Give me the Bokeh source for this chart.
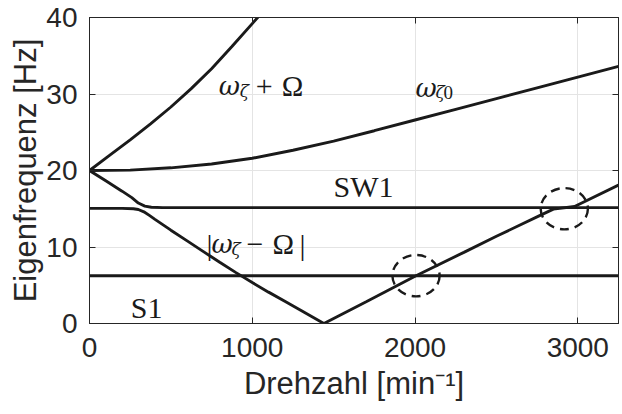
from bokeh.plotting import figure
from bokeh.models import Range1d, LinearAxis, FixedTicker
from bokeh.core.properties import value
from bokeh.embed import file_html
from bokeh.resources import INLINE

# axis ticks
rpm_ticks = [0, 1000, 2000, 3000]
hz_ticks = [0, 10, 20, 30, 40]

# omega_zeta0 branch
rpm_w0 = [0, 250, 500, 750, 1000, 1250, 1500, 1750, 2000, 2250, 2500, 2750, 3000, 3250]
hz_w0 = [20.0, 20.05, 20.35, 20.85, 21.6, 22.65, 23.85, 25.2, 26.6, 28.0, 29.4, 30.8, 32.2, 33.6]

# omega_zeta + Omega branch
rpm_wp = [0, 125, 250, 375, 500, 625, 750, 875, 1000, 1100]
hz_wp = [20.0, 22.0, 24.0, 26.1, 28.3, 30.7, 33.3, 36.2, 39.2, 41.6]

# SW1 mode (veering away from the backward branch near 300 rpm)
rpm_sw1 = [0, 100, 200, 260, 300, 340, 380, 450, 3250]
hz_sw1 = [20.0, 18.65, 17.3, 16.45, 15.75, 15.35, 15.2, 15.15, 15.15]

# |omega_zeta - Omega| branch
rpm_wm = [0, 200, 270, 300, 334, 370, 400, 500, 600, 700, 800, 900, 1000, 1100,
          1200, 1300, 1440, 1700, 2006, 2300, 2500, 2775, 2850, 2980, 3250]
hz_wm = [15.05, 15.05, 15.0, 14.9, 14.6, 14.1, 13.65, 12.2, 10.8, 9.4, 8.0, 6.65, 5.35, 4.1,
         2.9, 1.7, 0.0, 2.85, 6.25, 9.3, 11.4, 14.2, 14.95, 15.3, 18.1]

# S1 mode
rpm_s1 = [0, 3250]
hz_s1 = [6.25, 6.25]

# resonance crossings
ring_rpm = [2006, 2917]
ring_hz = [6.25, 15.0]

AX = "#262626"
INK = "#1a1a1a"

p = figure(width=622, height=414, output_backend="svg", toolbar_location=None,
           x_range=Range1d(0, 3250), y_range=Range1d(0, 40),
           min_border_left=89, min_border_right=4, min_border_top=17, min_border_bottom=91)
p.background_fill_color = "white"
p.border_fill_color = "white"
p.outline_line_color = AX
p.outline_line_width = 1

p.xaxis.ticker = FixedTicker(ticks=rpm_ticks)
p.yaxis.ticker = FixedTicker(ticks=hz_ticks)
p.xaxis.axis_label = "Drehzahl [min\u207b\u00b9]"
p.yaxis.axis_label = "Eigenfrequenz [Hz]"
for ax in (p.xaxis, p.yaxis):
    ax.major_tick_in = 6
    ax.major_tick_out = 0
    ax.minor_tick_line_color = None
    ax.axis_line_color = AX
    ax.major_tick_line_color = AX
    ax.major_label_text_font = "Liberation Sans"
    ax.major_label_text_font_size = "28px"
    ax.major_label_text_color = AX
    ax.axis_label_text_font = "Liberation Sans"
    ax.axis_label_text_font_size = "31px"
    ax.axis_label_text_font_style = "normal"
    ax.axis_label_text_color = AX
p.xaxis.major_label_standoff = 14
p.yaxis.major_label_standoff = 12
p.xaxis.axis_label_standoff = 6
p.yaxis.axis_label_standoff = 0

p.xgrid.ticker = FixedTicker(ticks=rpm_ticks)
p.ygrid.ticker = FixedTicker(ticks=hz_ticks)
p.grid.grid_line_color = "#e4e4e4"
p.grid.grid_line_width = 1

# mirrored tick marks on top and right edges
for ticks, side in ((rpm_ticks, "above"), (hz_ticks, "right")):
    ax = LinearAxis(ticker=FixedTicker(ticks=ticks),
                    major_label_overrides={t: "" for t in ticks},
                    major_label_standoff=0, major_label_text_font_size="0px",
                    major_tick_in=6, major_tick_out=0, minor_tick_line_color=None,
                    axis_line_color=AX, major_tick_line_color=AX)
    p.add_layout(ax, side)

lw = 2.9
p.line(rpm_w0, hz_w0, line_color=INK, line_width=lw)
p.line(rpm_wp, hz_wp, line_color=INK, line_width=lw)
p.line(rpm_sw1, hz_sw1, line_color=INK, line_width=lw)
p.line(rpm_wm, hz_wm, line_color=INK, line_width=lw)
p.line(rpm_s1, hz_s1, line_color=INK, line_width=lw)

p.ellipse(x=ring_rpm, y=ring_hz, width=290, height=5.4, fill_color=None,
          line_color=INK, line_width=2.4, line_dash="9 6")

serif = value("Liberation Serif")
greek = value("DejaVu Serif")


def put(x, y, txt, dx=0, dy=0, size="28px", style="normal", font=serif):
    p.text(x=[x], y=[y], text=[txt], x_offset=dx, y_offset=dy,
           text_font=font, text_font_size=size, text_font_style=style,
           text_color=INK, text_align="left", text_baseline="alphabetic")


# omega_zeta + Omega
put(794, 31.0, "\u03c9", 0, 0, "26px", "italic", greek)
put(794, 31.0, "\u03b6", 21, 5, "17px", "italic", greek)
put(794, 31.0, "+", 37, 0, "30px")
put(794, 31.0, "\u03a9", 63, 0, "29px")

# omega_zeta0
put(2003, 30.76, "\u03c9", 0, 0, "26px", "italic", greek)
put(2003, 30.76, "\u03b6", 20, 4, "17px", "italic", greek)
put(2003, 30.76, "0", 28, 4, "19px")

# |omega_zeta - Omega|
put(719, 10.33, "|", 0, 0, "30px")
put(719, 10.33, "\u03c9", 5, 0, "26px", "italic", greek)
put(719, 10.33, "\u03b6", 25, 5, "17px", "italic", greek)
put(719, 10.33, "\u2212", 40, 0, "30px")
put(719, 10.33, "\u03a9", 66, 0, "29px")
put(719, 10.33, "|", 93, 0, "30px")

put(254, 2.09, "S1", 0, 0, "30px")
put(1499, 17.95, "SW1", 0, 0, "30px")

open("out.html", "w").write(file_html(p, INLINE))
